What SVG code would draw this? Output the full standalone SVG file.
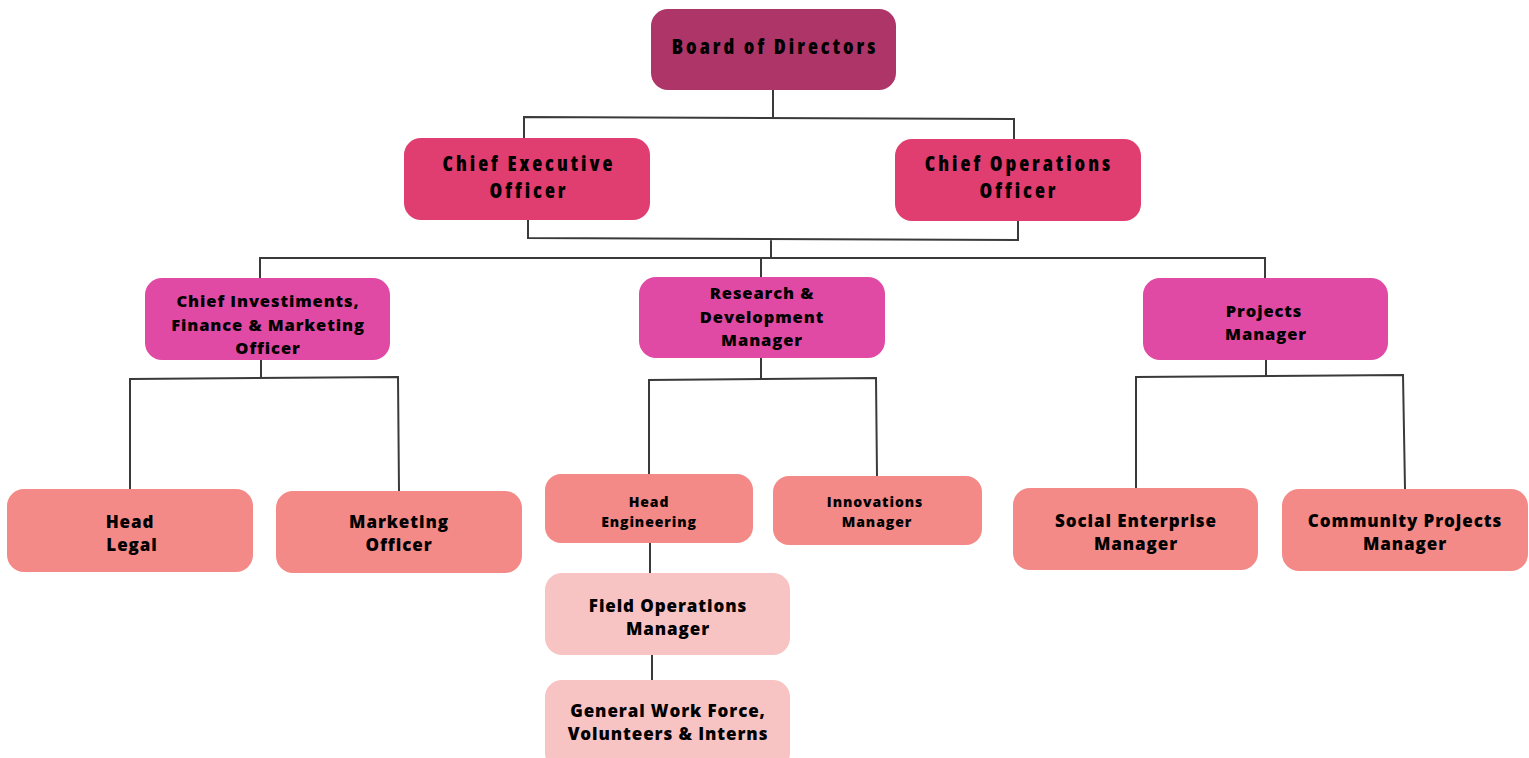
<svg xmlns="http://www.w3.org/2000/svg" width="1529" height="758" viewBox="0 0 1529 758">
<style>
.t{font-family:"Open Sans","Liberation Sans",sans-serif;font-weight:800;fill:#000;text-anchor:middle}
.top{font-size:20.5px;font-stretch:condensed;letter-spacing:3px}
.mid{font-size:16.5px;letter-spacing:0.9px}
.low{font-size:17px;letter-spacing:0.9px}
.sm{font-size:14px;letter-spacing:0.9px}
.l1{fill:#AE3568}.l2{fill:#E03D70}.l3{fill:#E04AA4}.l4{fill:#F48A87}.l5{fill:#F8C3C3}
.c{fill:none;stroke:#3a3a3a;stroke-width:2}
</style>
<rect width="1529" height="758" fill="#fff"/>
<g id="connectors">
<path class="c" d="M773 90V118M524 138V117L1014 119V139"/>
<path class="c" d="M528 220V238L1018 240V221M771 240V258M260 278V258L1265 258V278M761 258V277"/>
<path class="c" d="M261 360V378M130 489V379L398 377L399 491"/>
<path class="c" d="M761 358V379M649 474V380L876 378L877 476"/>
<path class="c" d="M1266 360V376M1136 488V377L1403 375L1405 489"/>
<path class="c" d="M650 543V573M652 655V680"/>
</g>
<g id="board"><rect class="l1" x="651" y="9" width="245" height="81" rx="17"/><text class="t top" x="775" y="54">Board of Directors</text></g>
<g id="ceo"><rect class="l2" x="404" y="138" width="246" height="82" rx="17"/><text class="t top" x="529" y="171">Chief Executive</text><text class="t top" x="529" y="198">Officer</text></g>
<g id="coo"><rect class="l2" x="895" y="139" width="246" height="82" rx="17"/><text class="t top" x="1019" y="171">Chief Operations</text><text class="t top" x="1019" y="198">Officer</text></g>
<g id="cifmo"><rect class="l3" x="145" y="278" width="245" height="82" rx="17"/><text class="t mid" x="268" y="307">Chief Investiments,</text><text class="t mid" x="268" y="331">Finance &amp; Marketing</text><text class="t mid" x="268" y="354">Officer</text></g>
<g id="rnd"><rect class="l3" x="639" y="277" width="246" height="81" rx="17"/><text class="t mid" x="762" y="299">Research &amp;</text><text class="t mid" x="762" y="323">Development</text><text class="t mid" x="762" y="346">Manager</text></g>
<g id="projects"><rect class="l3" x="1143" y="278" width="245" height="82" rx="17"/><text class="t mid" x="1264" y="317">Projects</text><text class="t mid" x="1266" y="340">Manager</text></g>
<g id="legal"><rect class="l4" x="7" y="489" width="246" height="83" rx="17"/><text class="t low" x="130" y="528">Head</text><text class="t low" x="132" y="551">Legal</text></g>
<g id="marketing"><rect class="l4" x="276" y="491" width="246" height="82" rx="17"/><text class="t low" x="399" y="528">Marketing</text><text class="t low" x="399" y="551">Officer</text></g>
<g id="headeng"><rect class="l4" x="545" y="474" width="208" height="69" rx="16"/><text class="t sm" x="649" y="507">Head</text><text class="t sm" x="649" y="527">Engineering</text></g>
<g id="innov"><rect class="l4" x="773" y="476" width="209" height="69" rx="16"/><text class="t sm" x="875" y="507">Innovations</text><text class="t sm" x="877" y="527">Manager</text></g>
<g id="fieldops"><rect class="l5" x="545" y="573" width="245" height="82" rx="17"/><text class="t low" x="668" y="612">Field Operations</text><text class="t low" x="668" y="635">Manager</text></g>
<g id="general"><rect class="l5" x="545" y="680" width="245" height="90" rx="17"/><text class="t low" x="668" y="717">General Work Force,</text><text class="t low" x="668" y="740">Volunteers &amp; Interns</text></g>
<g id="social"><rect class="l4" x="1013" y="488" width="245" height="82" rx="17"/><text class="t low" x="1136" y="527">Social Enterprise</text><text class="t low" x="1136" y="550">Manager</text></g>
<g id="community"><rect class="l4" x="1282" y="489" width="246" height="82" rx="17"/><text class="t low" x="1405" y="527">Community Projects</text><text class="t low" x="1405" y="550">Manager</text></g>
</svg>
